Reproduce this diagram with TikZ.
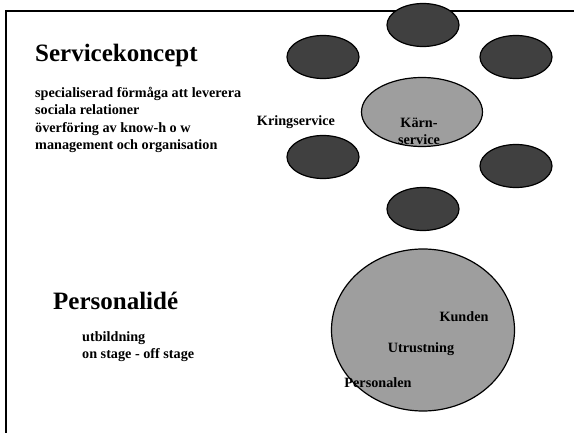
\documentclass[tikz,border=0pt]{standalone}
\usepackage{fontspec}
\setmainfont{Liberation Serif}
\usepackage{xcolor}
\usetikzlibrary{calc, positioning, shapes.geometric}
\definecolor{darkfill}{gray}{0.25}
\definecolor{lightfill}{gray}{0.62}

\begin{document}
\begin{tikzpicture}
                      [x=1pt, y=-1pt, text centered,
                       title/.style={font=\fontsize{25}{30}\selectfont\bfseries, inner sep=0pt, anchor=base west},
                       body/.style={font=\fontsize{14.2}{17.3}\selectfont\bfseries, inner sep=0pt, align=left},
                       lbl/.style={font=\fontsize{14.2}{17.3}\selectfont\bfseries, inner sep=0pt},
                       kring/.style={draw, ellipse, line width=1.2pt, fill=darkfill, minimum width=72pt, minimum height=43pt, inner sep=0pt},
                       karna/.style={draw, ellipse, line width=1.2pt, fill=lightfill, inner sep=0pt}]
                      \useasboundingbox (0,0) rectangle (574,433);
                      % frame %
                      \draw[line width=1.6pt] (6,433) -- (6,11) -- (574,11);

                      % nodes %
                      \node[title] (sk) at (35,62) {Servicekoncept};
                      \node[body, anchor=north west] (skt) at (35,87)
                        {specialiserad förmåga att leverera\\sociala relationer\\överföring av know-h o w\\management och organisation};

                      \node[kring] (k1) at (423,25) {};
                      \node[kring] (k2) at (323,57) {};
                      \node[kring] (k3) at (516,57) {};
                      \node[kring] (k4) at (323,157) {};
                      \node[kring] (k5) at (516,166) {};
                      \node[kring] (k6) at (423,209) {};
                      \node[karna, minimum width=121pt, minimum height=69pt] (karn) at (422,112) {};
                      \node[lbl, align=center] (karnt) at (419,131) {Kärn-\\service};
                      \node[lbl] (kr) at (296,122) {Kringservice};

                      \node[title] (pi) at (53,310) {Personalidé};
                      \node[body, anchor=north west] (pit) at (82,331) {utbildning\\on stage - off stage};

                      \node[karna, minimum width=183pt, minimum height=162pt] (kund) at (423,330) {};
                      \node[lbl] (ku) at (464,317) {Kunden};
                      \node[lbl] (ut) at (421,349) {Utrustning};
                      \node[lbl] (pe) at (378,383) {Personalen};
                    \end{tikzpicture}
\end{document}
